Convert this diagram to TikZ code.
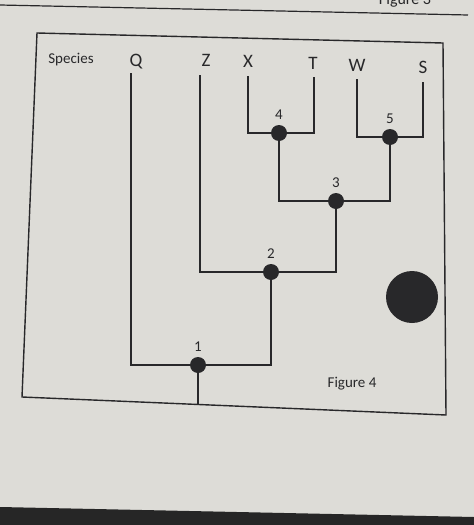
\documentclass[tikz,border=0pt]{standalone}
\usepackage{fontspec}
\setmainfont{Carlito}
\definecolor{paper}{RGB}{221,220,215}
\definecolor{ink}{RGB}{40,40,42}
\tikzset{
  dot/.style={circle,fill=ink,inner sep=0pt,minimum size=16pt},
  taxon/.style={anchor=base,text=ink,font=\fontsize{19}{19}\selectfont},
  num/.style={text=ink,font=\fontsize{15}{15}\selectfont},
  branch/.style={draw=ink,line width=1.6pt}
}
\begin{document}
\begin{tikzpicture}[x=1pt,y=-1pt]
\useasboundingbox (0,0) rectangle (474,525);
\clip (0,0) rectangle (474,525);
% The sheet and the table edge
\fill[paper] (0,0) rectangle (474,525);
\fill[black!85] (0,507) -- (474,517) -- (474,525) -- (0,525) -- cycle;

% Rule and caption of the figure above
\draw[ink,line width=1.2pt] (0,5) -- (468,15);
\node[taxon,font=\fontsize{16}{16}\selectfont] (fig3) at (405,4) {Figure 3};

% Frame round the tree
\draw[ink,line width=1.4pt] (37,33) -- (443,43) -- (446,415) -- (22,397) -- cycle;

% Species names and the tops of their lines
\node[taxon,font=\fontsize{15}{15}\selectfont] (species) at (71,63) {Species};
\node[taxon] (Q) at (136,66) {Q};
\node[taxon] (Z) at (206,66) {Z};
\node[taxon] (X) at (248,67) {X};
\node[taxon] (T) at (313,69) {T};
\node[taxon] (W) at (357,71) {W};
\node[taxon] (S) at (423,73) {S};
\coordinate (q) at (131,73);
\coordinate (z) at (200,75);
\coordinate (x) at (248,76);
\coordinate (t) at (314,77);
\coordinate (w) at (357,79);
\coordinate (s) at (423,82);

% Branch points
\node[dot,label={[num,label distance=2pt]above:1}] (n1) at (198,365) {};
\node[dot,label={[num,label distance=2pt]above:2}] (n2) at (271,272) {};
\node[dot,label={[num,label distance=2pt]above:3}] (n3) at (336,201) {};
\node[dot,label={[num,label distance=2pt]above:4}] (n4) at (279,133) {};
\node[dot,label={[num,label distance=2pt]above:5}] (n5) at (390,137) {};
\coordinate (root) at (198,404);

% Branches
\draw[branch] (q) |- (n1) -| (n2);
\draw[branch] (z) |- (n2) -| (n3);
\draw[branch] (n4) |- (n3) -| (n5);
\draw[branch] (x) |- (n4) -| (t);
\draw[branch] (w) |- (n5) -| (s);
\draw[branch] (n1) -- (root);

% Hole punch and caption
\fill[ink] (412,297) circle (26);
\node[text=ink,font=\fontsize{15}{15}\selectfont] (fig4) at (352,384) {Figure 4};
\end{tikzpicture}
\end{document}
